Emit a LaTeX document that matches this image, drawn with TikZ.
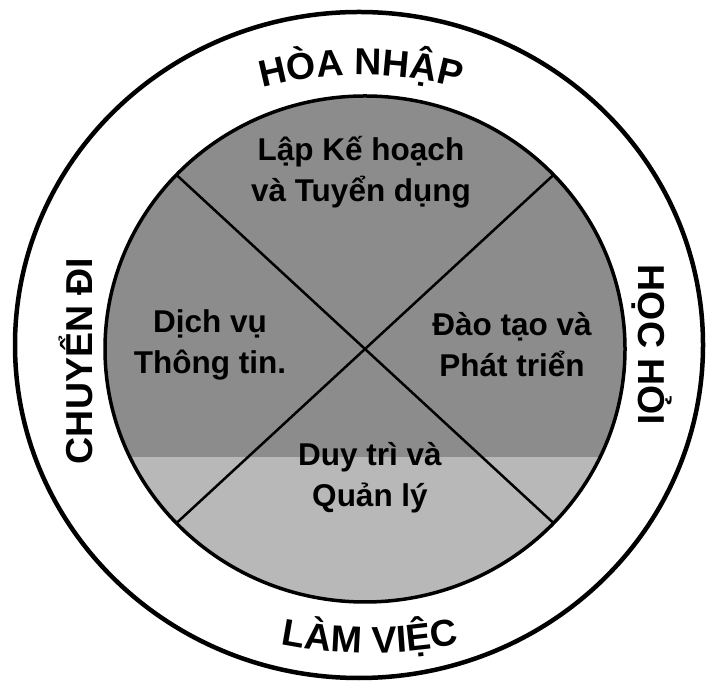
\documentclass[tikz,border=0pt]{standalone}
\usepackage{fontspec}
\newfontfamily\lsans{Liberation Sans}
\usetikzlibrary{decorations.text,calc}
\newcommand{\outerfont}{\lsans\bfseries\fontsize{37.5}{40}\selectfont}
\newcommand{\innerfont}{\lsans\bfseries\fontsize{31.5}{41}\selectfont}
\begin{document}
\begin{tikzpicture}[x=1pt,y=1pt,
  inlabel/.style={font=\innerfont, align=center, text=black, inner sep=0pt},
  outlabel/.style={font=\outerfont, inner sep=0pt},
  ring/.style={line width=4.5pt},
  disc/.style={line width=3.5pt},
  divider/.style={line width=2.5pt}]
\useasboundingbox (0,0) rectangle (708,684);
\fill[white] (0,0) rectangle (708,684);
% shaded disc
\begin{scope}
  \clip (365,335) ellipse [x radius=260pt, y radius=253pt];
  \fill[black!45] (100,80) rectangle (630,600);
  \fill[black!28] (100,80) rectangle (630,227);
\end{scope}
% cross
\coordinate (c) at (365,335);
\coordinate (tl) at ($(c)+(136.5:260pt and 253pt)$);
\coordinate (tr) at ($(c)+(43.5:260pt and 253pt)$);
\coordinate (bl) at ($(c)+(223.5:260pt and 253pt)$);
\coordinate (br) at ($(c)+(-43.5:260pt and 253pt)$);
\draw[divider] (tl) -- (br);
\draw[divider] (tr) -- (bl);
\draw[disc] (c) ellipse [x radius=260pt, y radius=253pt];
\draw[ring] (359,339) ellipse [x radius=344pt, y radius=333pt];
% inner labels
\node[inlabel] (plan) at (361,512) {Lập Kế hoạch\\và Tuyển dụng};
\node[inlabel] (info) at (210,339) {Dịch vụ\\Thông tin.};
\node[inlabel] (train) at (512,339) {Đào tạo và\\Phát triển};
\node[inlabel] (keep) at (370,206) {Duy trì và\\Quản lý};
% outer labels
\node[outlabel, rotate=90] (move) at (76,323) {CHUYỂN ĐI};
\node[outlabel, rotate=-90] (learn) at (652,339) {HỌC HỎI};
\path[decorate, decoration={text along path, text align=center,
  text={|\outerfont|HÒA NHẬP}}]
  (361,229) ++(120:380pt) arc[start angle=120, end angle=60, radius=380pt];
\path[decorate, decoration={text along path, text align=center,
  text={|\outerfont|LÀM VIỆC}}]
  (370,481) ++(240:450pt) arc[start angle=240, end angle=300, radius=450pt];
\end{tikzpicture}
\end{document}
